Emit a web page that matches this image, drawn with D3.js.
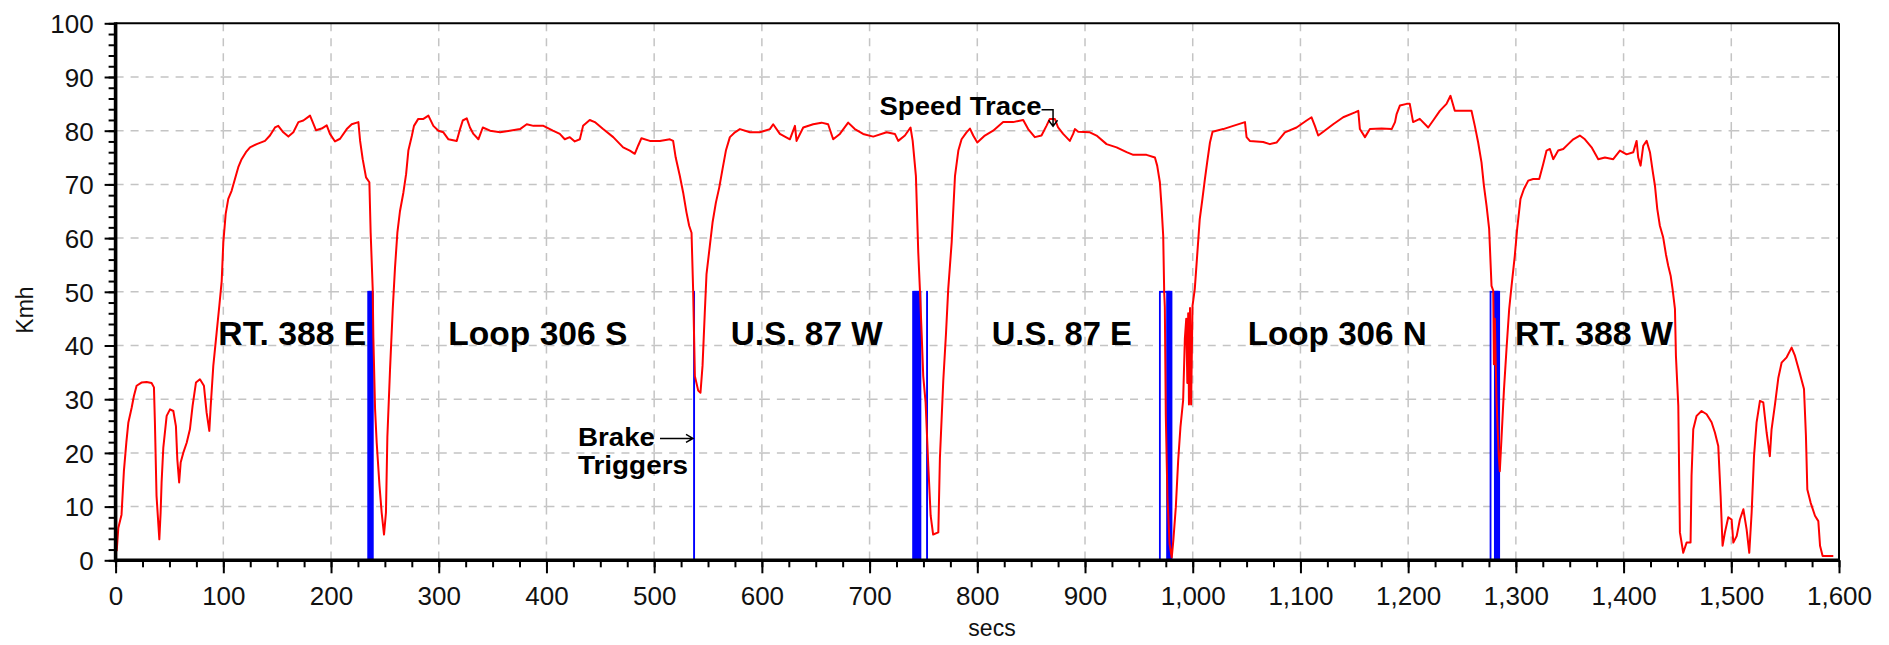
<!DOCTYPE html>
<html>
<head>
<meta charset="utf-8">
<script src="https://cdn.jsdelivr.net/npm/d3@7/dist/d3.min.js"></script>
<style>
  body { margin: 0; background: #fff; }
  svg { display: block; font-family: "Liberation Sans", Arial, sans-serif; }
  .grid line { stroke: #c4c4c4; stroke-width: 1.5; stroke-dasharray: 8 7; }
  .tick line { stroke: #000; stroke-width: 2; }
  .tick text { font-size: 26px; fill: #111; }
  .route { font-size: 34px; font-weight: bold; fill: #000; }
  .note { font-size: 25px; font-weight: bold; fill: #000; }
  .axis-title { font-size: 23px; fill: #111; }
</style>
</head>
<body>
<div id="chart"></div>
<script>
// tick values
const xTicks = [0, 100, 200, 300, 400, 500, 600, 700, 800, 900, 1000, 1100, 1200, 1300, 1400, 1500, 1600];
const yTicks = [0, 10, 20, 30, 40, 50, 60, 70, 80, 90, 100];

// route names, with the span (secs) the label covers
const routeNames = ['RT. 388 E', 'Loop 306 S', 'U.S. 87 W', 'U.S. 87 E', 'Loop 306 N', 'RT. 388 W'];
const routeFrom = [95.4, 308.9, 571.1, 813.4, 1051.1, 1299.2];
const routeTo = [232.8, 475.1, 712.2, 943.4, 1217.3, 1445.9];

// brake trigger pulses (secs), each one up to 50 Kmh on the chart
const brakeOn = [234.5, 235.6, 236.7, 237.8, 537.0, 740.4, 741.6, 742.8, 744.0, 745.2, 746.4, 753.3,
  969.5, 976.2, 977.4, 978.6, 1276.5, 1280.5, 1281.7, 1282.9];
const brakeOff = [235.2, 236.3, 237.4, 238.8, 537.1, 741.2, 742.4, 743.6, 744.8, 746.0, 747.2, 753.4,
  980.3, 977.0, 978.2, 979.4, 1284.5, 1281.3, 1282.5, 1283.7];
const brakeLevel = 50;

// speed trace [secs, Kmh]
const speedTrace = [
  [1, 1.7], [2.5, 6], [5.5, 8.5], [7.7, 16.6], [10, 22], [11.8, 25.6], [14.9, 28.4], [17, 30.6], [19.5, 32.5],
  [24, 33.1], [28.8, 33.2], [33.4, 33], [35.6, 32.2], [36.5, 25.6], [38, 12], [40.6, 3.9], [41.8, 8.9],
  [42.7, 14.5], [44.3, 21], [47.4, 26.9], [50.5, 28.1], [53.6, 27.8], [56, 25], [57.3, 18.8], [59, 14.5],
  [60.4, 18.2], [62.8, 20], [66, 21.9], [69, 24.4], [71.5, 28.8], [74.6, 33.1], [78.3, 33.7], [82, 32.5],
  [84.5, 27.5], [87, 24.1], [88.2, 28.4], [90.7, 36.2], [93.8, 42.4], [96.3, 47.4], [98.5, 52], [100, 59.2],
  [102.2, 64.5], [104.6, 67.3], [107.7, 68.8], [110.8, 71], [113.9, 73.2], [117, 74.7], [121, 76],
  [124.8, 76.9], [131, 77.5], [138.7, 78.1], [143.3, 79.1], [148, 80.6], [151, 80.9], [155.7, 79.7],
  [160.4, 78.9], [165, 79.7], [169.7, 81.6], [174.3, 81.9], [180.5, 82.8], [183, 81.6], [186, 80.1],
  [191.3, 80.4], [196, 81], [199, 79.4], [203.7, 78], [208.4, 78.5], [214.6, 80.3], [219.2, 81.2],
  [225.4, 81.6], [227, 78.1], [229.4, 74.7], [232.5, 71.3], [235.6, 70.4], [236.8, 61], [238.7, 50.5],
  [239.3, 41.5], [240.9, 28.1], [242.4, 21.9], [245, 13.9], [247, 8.9], [249.2, 4.8], [251, 8.9],
  [252.3, 22.9], [254.8, 35.6], [257.3, 46.8], [259.4, 54.5], [261.6, 61], [264, 65], [267.2, 68.5],
  [269.7, 71.9], [271.8, 76.3], [275, 79], [277, 80.9], [281, 82.2], [285.8, 82.2], [290.4, 82.8],
  [295, 80.9], [299.7, 80], [304.3, 79.7], [309, 78.4], [316.7, 78.1], [319.8, 80.3], [322.3, 81.9],
  [326, 82.3], [329, 80.6], [332.2, 79.4], [336.8, 78.4], [340.9, 80.6], [347.7, 80], [357, 79.7],
  [366, 80], [375.5, 80.3], [381.7, 81.2], [387.9, 80.9], [397.2, 80.9],
  [400, 80.6], [406, 80], [412.4, 79.4], [417, 78.4], [421.7, 78.8], [426.3, 78], [431, 78.4], [434, 80.9],
  [440.2, 82], [444.9, 81.6], [452.6, 80.3], [462, 78.8], [471.2, 76.9], [477.4, 76.3], [482, 75.7],
  [485.1, 77.2], [488.2, 78.6], [496, 78.1], [505.3, 78.1], [514.6, 78.4], [517.6, 78.1], [520, 75],
  [523.8, 71.6], [526.9, 68.5], [530, 64.8], [532.5, 62.3], [534.7, 61], [536.2, 50.2], [537.8, 34.3],
  [540.9, 31.6], [543, 31.2], [544.9, 36.2], [547, 46.1], [548.6, 53.3], [551.7, 58.6], [554.2, 62.9],
  [557.3, 66.6], [560.4, 69.4], [563.5, 72.9], [566.6, 76.3], [570.3, 78.8], [575, 79.7], [579.6, 80.3],
  [588.9, 79.7], [598.1, 79.7], [607.4, 80.3], [610.5, 81.2], [616.7, 79.4], [626, 78.4], [630.7, 80.9],
  [632.2, 78.1], [638.4, 80.6], [647.6, 81.2], [655.4, 81.5], [661.5, 81.2], [666.2, 78.4], [672.4, 79.4],
  [680.1, 81.5], [686.3, 80.3], [694, 79.4], [703.4, 78.9], [715.8, 79.7], [723.5, 79.4], [726.6, 78.1],
  [732.8, 79.1], [738, 80.6], [740, 78.1], [743, 71.6], [745.2, 57.3], [746.7, 50.5], [748.3, 42.4],
  [749.8, 34.3], [752, 29.4], [754.5, 17.6], [756.7, 8.3], [759, 4.8], [763.8, 5.2], [765.3, 19.1],
  [768.4, 33.4], [770.9, 42.1], [773, 50.5], [776.2, 59.2], [779.3, 71.6], [782.4, 76.3], [785.4, 78.4],
  [790, 79.7], [793.2, 80.4], [796.2, 79.1], [800, 77.8],
  [807, 79.1], [814.7, 80], [824, 81.6], [833.3, 81.6], [842.6, 82], [847.2, 80.3], [853.4, 78.8],
  [859.6, 79.1], [864.2, 80.9], [867.3, 82.2], [872, 82.2], [875, 80.6], [879.7, 79.4], [885.9, 78.1],
  [889, 79.4], [890.6, 80.3], [893.7, 79.8], [904.5, 79.7], [910.7, 79.1], [920, 77.5], [929.3, 76.9],
  [938.6, 76], [944.8, 75.5], [957.1, 75.5], [964.9, 75], [967, 73.5], [969.5, 70.4], [971, 66],
  [972.6, 60.4], [973.5, 50], [974.1, 47.2], [975, 27], [976.5, 12], [978.5, 3], [980.5, 0.5], [982, 3.7],
  [984.3, 9.9], [986.5, 18.6], [988.6, 24.8], [991.1, 29.8], [992.7, 41.3], [994, 45], [995, 33],
  [995.8, 46], [996.5, 29], [997.5, 47], [998.5, 29], [999.8, 47.4], [1001.9, 50.5], [1004.1, 56.7],
  [1006.5, 63.5], [1009, 67.3], [1011.3, 71], [1013.4, 74.1], [1016, 77.8], [1018.4, 79.8], [1028.3, 80.3],
  [1037.6, 80.9], [1048.5, 81.6], [1050, 78.8], [1053, 78.1], [1065.4, 77.9], [1071.6, 77.5], [1077.8, 77.8],
  [1085.6, 79.7], [1096.4, 80.6], [1105.7, 81.9], [1110.3, 82.5], [1113.4, 80.9], [1116.5, 79.1],
  [1121.2, 79.8], [1130.4, 81.2], [1139.7, 82.5], [1150.6, 83.4], [1153.7, 83.7], [1155.2, 80.3],
  [1159.9, 78.8], [1164.5, 80.3], [1175.4, 80.4], [1184.7, 80.3], [1187.8, 81.6], [1189.3, 83.1],
  [1192.4, 84.7], [1198.6, 85],
  [1201.5, 85], [1204.6, 81.6], [1210.8, 82.2], [1218.6, 80.6], [1223.2, 81.9], [1229.4, 83.7], [1235.6, 85],
  [1239.3, 86.5], [1243.3, 83.7], [1249.5, 83.7], [1258.8, 83.7], [1261.9, 80.9], [1265, 77.8], [1268.1, 74.1],
  [1270.3, 69.8], [1272.8, 66], [1275.2, 61.7], [1277.4, 51.1], [1279, 50.2], [1279.6, 36.5], [1280.5, 45],
  [1282, 30], [1284, 20], [1285.1, 16.6], [1286.7, 22.9], [1288.9, 31.6], [1291.3, 39.3], [1293.8, 46.8],
  [1296, 51.1], [1299, 56.7], [1301.2, 61.7], [1304.3, 67.3], [1307.4, 69.1], [1311.5, 70.7], [1316.1, 71],
  [1321.7, 71], [1325.4, 73.8], [1328.5, 76.3], [1331.6, 76.6], [1334.7, 74.7], [1339.3, 76.3], [1344, 76.6],
  [1348.6, 77.5], [1353.3, 78.4], [1359.4, 79.1], [1364.1, 78.4], [1370.3, 76.9], [1376.5, 74.7],
  [1382.7, 75], [1390.4, 74.7], [1396.6, 76.3], [1402.8, 75.6], [1409, 76], [1412.1, 78.1], [1413.6, 75],
  [1415.8, 73.5], [1418.3, 77.2], [1421.4, 78.1], [1424.5, 76], [1427, 72.5], [1429.1, 69.8], [1431.3, 65.4],
  [1433.7, 62.3], [1436.8, 60.1], [1439.3, 57], [1441.5, 54.8], [1443.7, 53], [1445.5, 50.5], [1447.7, 46.8],
  [1448.6, 38.1], [1450.8, 28.8], [1452.3, 5.2], [1455.4, 1.4], [1458.5, 3.3], [1462.2, 3.3], [1463.1, 15.7],
  [1464.7, 24.4], [1467.8, 26.9], [1472.4, 27.8], [1477.1, 27.2], [1481.7, 25.7], [1484.8, 23.8],
  [1487.9, 21.3], [1490.1, 12], [1491.9, 2.7], [1494.1, 5.2], [1497.2, 8], [1500.3, 7.6], [1501.9, 3.3],
  [1505, 4.5], [1508, 7.6], [1511.2, 9.5], [1514.2, 5.8], [1516.7, 1.4], [1518.9, 8.9], [1521.1, 19.4],
  [1523.5, 25.7], [1526.6, 29.7], [1529.7, 29.4], [1532.8, 23.8], [1535.8, 19.4], [1537.4, 24.4],
  [1540.6, 29.1], [1543.7, 34], [1546.7, 36.8], [1551.4, 37.8], [1556, 39.6], [1559.1, 38.1], [1563.8, 34.7],
  [1567.5, 31.9], [1569.3, 23.2], [1570.6, 13.2], [1573.7, 10.7], [1577.7, 8.3], [1580.8, 7.3],
  [1582.4, 2.7], [1584.8, 0.8], [1594.7, 0.8]
];

// annotation anchors (secs, Kmh)
const speedNote = { text: 'Speed Trace', at: [868, 82.5] };
const brakeNote = { lines: ['Brake', 'Triggers'], at: [537, 22.7] };

const _width = 1889;
const _height = 645;
const margin = { top: 23.3, right: 50, bottom: 84.7, left: 115.6 };
const width = _width - margin.left - margin.right;
const height = _height - margin.top - margin.bottom;

const svg = d3.select('#chart').append('svg')
  .attr('width', _width)
  .attr('height', _height);

const g = svg.append('g')
  .attr('transform', `translate(${margin.left},${margin.top})`);

// set the ranges
const x = d3.scaleLinear().domain([0, 1600]).range([0, width]);
const y = d3.scaleLinear().domain([0, 100]).range([height, 0]);

// dashed grid, one segment per cell so every dash run starts at a corner
const grid = g.append('g').attr('class', 'grid');
const xCells = d3.pairs(xTicks);
const yCells = d3.pairs(yTicks);
xTicks.slice(1, -1).forEach((v) => {
  yCells.forEach(([lo, hi]) => {
    grid.append('line')
      .attr('x1', x(v)).attr('x2', x(v))
      .attr('y1', y(hi)).attr('y2', y(lo));
  });
});
yTicks.slice(1, -1).forEach((v) => {
  xCells.forEach(([lo, hi]) => {
    grid.append('line')
      .attr('x1', x(lo)).attr('x2', x(hi))
      .attr('y1', y(v)).attr('y2', y(v));
  });
});

// brake trigger pulses
g.append('g')
  .selectAll('rect')
  .data(brakeOn.map((on, i) => [on, brakeOff[i]]))
  .enter().append('rect')
  .attr('x', (d) => x(d[0]))
  .attr('width', (d) => Math.max(0, x(d[1]) - x(d[0])))
  .attr('y', y(brakeLevel))
  .attr('height', y(0) - y(brakeLevel))
  .attr('fill', 'none')
  .attr('stroke', '#0000ff')
  .attr('stroke-width', 1.8);

// speed trace
const line = d3.line()
  .x((d) => x(d[0]))
  .y((d) => y(d[1]));

g.append('path')
  .datum(speedTrace)
  .attr('fill', 'none')
  .attr('stroke', '#ff0000')
  .attr('stroke-width', 2)
  .attr('stroke-linejoin', 'round')
  .attr('d', line);

// frame: thin top/right, heavy left/bottom
g.append('line')
  .attr('x1', 0).attr('x2', width).attr('y1', 0).attr('y2', 0)
  .attr('stroke', '#000').attr('stroke-width', 2);
g.append('line')
  .attr('x1', width).attr('x2', width).attr('y1', 0).attr('y2', height)
  .attr('stroke', '#000').attr('stroke-width', 2);

// minor ticks
g.append('g')
  .attr('transform', `translate(0,${height})`)
  .call(d3.axisBottom(x).tickValues(d3.range(0, 1601, 25)).tickSize(7).tickFormat(''))
  .call((s) => s.select('.domain').remove());
g.append('g')
  .call(d3.axisLeft(y).tickValues(d3.range(0, 101, 2)).tickSize(7).tickFormat(''))
  .call((s) => s.select('.domain').remove());

// add the x Axis
g.append('g')
  .attr('transform', `translate(0,${height})`)
  .call(d3.axisBottom(x).tickValues(xTicks).tickSize(13).tickFormat(d3.format(',')))
  .call((s) => s.select('.domain').remove())
  .call((s) => s.selectAll('text').attr('y', 45).attr('dy', null));

// add the y Axis
g.append('g')
  .call(d3.axisLeft(y).tickValues(yTicks).tickSize(11))
  .call((s) => s.select('.domain').remove())
  .call((s) => s.selectAll('text').attr('x', -22).attr('dy', '0.36em'));

g.append('line')
  .attr('x1', 0).attr('x2', 0).attr('y1', -1).attr('y2', height + 2)
  .attr('stroke', '#000').attr('stroke-width', 3.6);
g.append('line')
  .attr('x1', -1).attr('x2', width + 1).attr('y1', height).attr('y2', height)
  .attr('stroke', '#000').attr('stroke-width', 3.6);

// axis titles
svg.append('text')
  .attr('class', 'axis-title')
  .attr('text-anchor', 'middle')
  .attr('x', 992)
  .attr('y', 636)
  .text('secs');
svg.append('text')
  .attr('class', 'axis-title')
  .attr('text-anchor', 'middle')
  .attr('transform', 'translate(33,310) rotate(-90)')
  .text('Kmh');

// route labels
g.selectAll('.route')
  .data(routeNames)
  .enter().append('text')
  .attr('class', 'route')
  .attr('x', (d, i) => x(routeFrom[i]))
  .attr('y', y(40) - 0.5)
  .attr('textLength', (d, i) => x(routeTo[i]) - x(routeFrom[i]))
  .attr('lengthAdjust', 'spacingAndGlyphs')
  .text((d) => d);

// "Speed Trace" callout
const sx = x(speedNote.at[0]);
const sy = y(speedNote.at[1]);
g.append('text')
  .attr('class', 'note')
  .attr('x', sx - 171)
  .attr('y', sy - 2)
  .attr('textLength', 162)
  .attr('lengthAdjust', 'spacingAndGlyphs')
  .text(speedNote.text);
g.append('path')
  .attr('d', `M${sx - 9},${sy - 7.5}H${sx + 2.5}V${sy + 8.5}M${sx - 2},${sy + 3}L${sx + 2.5},${sy + 9}L${sx + 7},${sy + 3}`)
  .attr('fill', 'none')
  .attr('stroke', '#000')
  .attr('stroke-width', 1.5);

// "Brake Triggers" callout
const bx = x(brakeNote.at[0]);
const by = y(brakeNote.at[1]);
g.append('text')
  .attr('class', 'note')
  .attr('x', bx - 116)
  .attr('y', by + 7.5)
  .attr('textLength', 77)
  .attr('lengthAdjust', 'spacingAndGlyphs')
  .text(brakeNote.lines[0]);
g.append('text')
  .attr('class', 'note')
  .attr('x', bx - 116)
  .attr('y', by + 35.5)
  .attr('textLength', 110)
  .attr('lengthAdjust', 'spacingAndGlyphs')
  .text(brakeNote.lines[1]);
g.append('path')
  .attr('d', `M${bx - 34},${by}H${bx - 1}M${bx - 8},${by - 4}L${bx - 1},${by}L${bx - 8},${by + 4}`)
  .attr('fill', 'none')
  .attr('stroke', '#000')
  .attr('stroke-width', 1.5);
</script>
</body>
</html>
